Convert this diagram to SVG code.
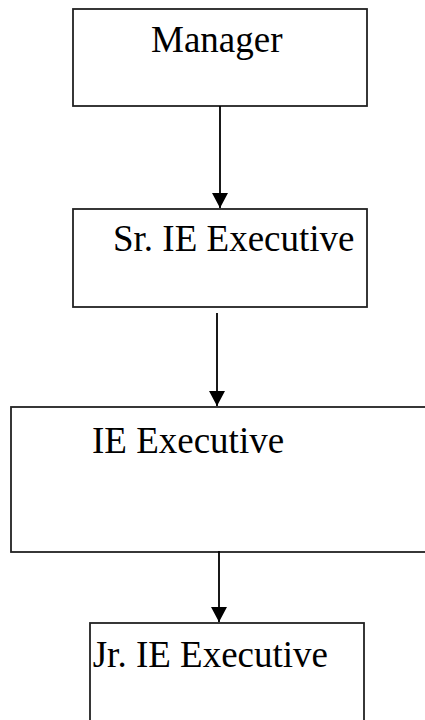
<svg xmlns="http://www.w3.org/2000/svg" width="425" height="720" viewBox="0 0 425 720">
<style>
.box{fill:#fff;stroke:#222;stroke-width:1.8}
.lbl{font-family:"Liberation Serif","Times New Roman",serif;font-size:37px;fill:#000}
.conn{stroke:#000;stroke-width:1.8;fill:none}
</style>
<defs>
<marker id="ah" markerUnits="userSpaceOnUse" markerWidth="16" markerHeight="16" viewBox="0 0 16 16" refX="15" refY="8" orient="auto">
<path d="M0,0 L15,8 L0,16 Z" fill="#000"/>
</marker>
</defs>
<rect width="425" height="720" fill="#fff"/>
<g id="manager"><rect class="box" x="73" y="9" width="294" height="97"/><text class="lbl" x="151" y="52">Manager</text></g>
<g id="sr-ie-executive"><rect class="box" x="73" y="209" width="294" height="98"/><text class="lbl" x="113" y="251">Sr. IE Executive</text></g>
<g id="ie-executive"><rect class="box" x="11" y="407" width="430" height="145"/><text class="lbl" x="92" y="453">IE Executive</text></g>
<g id="jr-ie-executive"><rect class="box" x="90" y="623" width="274" height="110"/><text class="lbl" x="328" y="667" text-anchor="end">Jr. IE Executive</text></g>
<g id="connectors">
<line class="conn" x1="220" y1="106" x2="220" y2="208" marker-end="url(#ah)"/>
<line class="conn" x1="217" y1="313" x2="217" y2="406" marker-end="url(#ah)"/>
<line class="conn" x1="219" y1="551" x2="219" y2="622" marker-end="url(#ah)"/>
</g>
</svg>
